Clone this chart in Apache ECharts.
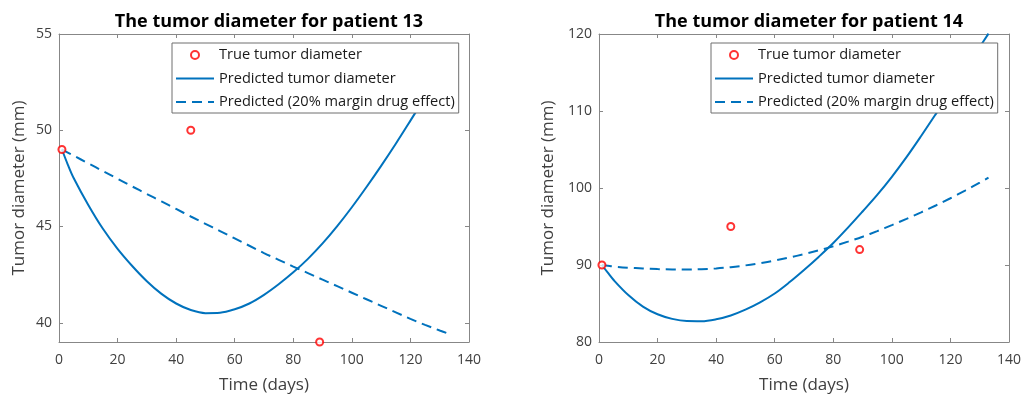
<!DOCTYPE html>
<html>
<head>
<meta charset="utf-8">
<script src="https://cdn.jsdelivr.net/npm/echarts@6/dist/echarts.min.js"></script>
<style>
  html, body { margin: 0; padding: 0; background: #fff; }
  #chart { width: 1025px; height: 403px; }
</style>
</head>
<body>
<div id="chart"></div>
<script>
// x positions (days) shared by the predicted curves
const days = [1, 3, 5, 10, 15, 20, 25, 30, 35, 40, 45, 50, 55, 60, 65, 70, 75, 80, 85, 90, 95, 100, 105, 110, 115, 120, 125, 130, 133];

// patient 13
const trueDays13 = [1, 45, 89];
const trueVals13 = [49, 50, 39];
const predicted13 = [49.0, 48.22, 47.52, 46.12, 44.88, 43.84, 42.95, 42.16, 41.5, 41.0, 40.66, 40.5, 40.52, 40.7, 41.0, 41.45, 42.0, 42.62, 43.32, 44.12, 45.02, 46.0, 47.05, 48.15, 49.3, 50.5, 51.72, 52.97, 53.75];
const margin13 = [49.0, 48.84, 48.68, 48.28, 47.88, 47.48, 47.08, 46.69, 46.3, 45.91, 45.52, 45.14, 44.76, 44.38, 44.0, 43.62, 43.27, 42.92, 42.58, 42.24, 41.9, 41.56, 41.22, 40.88, 40.54, 40.2, 39.89, 39.6, 39.43];

// patient 14
const trueDays14 = [1, 45, 89];
const trueVals14 = [90, 95, 92];
const predicted14 = [90.0, 89.0, 88.05, 86.1, 84.6, 83.6, 83.0, 82.72, 82.7, 82.95, 83.45, 84.2, 85.15, 86.3, 87.75, 89.35, 91.05, 92.85, 94.85, 96.95, 99.1, 101.45, 104.0, 106.75, 109.6, 112.5, 115.4, 118.3, 120.05];
const margin14 = [90.0, 89.9, 89.8, 89.65, 89.55, 89.47, 89.43, 89.42, 89.46, 89.55, 89.72, 89.95, 90.24, 90.58, 90.97, 91.41, 91.9, 92.44, 93.03, 93.67, 94.4, 95.18, 95.99, 96.84, 97.73, 98.67, 99.66, 100.7, 101.35];

const yTicks13 = [40, 45, 50, 55];
const titles = ['The tumor diameter for patient 13', 'The tumor diameter for patient 14'];
const names = ['True tumor diameter', 'Predicted tumor diameter', 'Predicted (20% margin drug effect)'];

const FONT = 'Open Sans';
const AXIS_COLOR = '#878787';
const LABEL_COLOR = '#404040';
const BLUE = '#0072BD';
const RED = '#ff0000';

const zip = (xs, ys) => xs.map((x, i) => [x, ys[i]]);

const xAxisFor = (grid, top) => ({
  type: 'value',
  gridIndex: grid,
  position: top ? 'top' : 'bottom',
  min: 0,
  max: 140,
  interval: 20,
  name: top ? '' : 'Time (days)',
  nameLocation: 'middle',
  nameGap: 35,
  nameTextStyle: { fontFamily: FONT, fontSize: 17, color: LABEL_COLOR },
  axisLine: { show: true, onZero: false, lineStyle: { color: AXIS_COLOR, width: 1 } },
  axisTick: { show: true, inside: true, length: 4, lineStyle: { color: AXIS_COLOR } },
  axisLabel: { show: !top, margin: 11, fontFamily: FONT, fontSize: 14, color: LABEL_COLOR },
  splitLine: { show: false },
});

const yAxisFor = (grid, right, range) => {
  const ax = {
    type: 'value',
    gridIndex: grid,
    position: right ? 'right' : 'left',
    min: range.min,
    max: range.max,
    name: right ? '' : 'Tumor diameter (mm)',
    nameLocation: 'middle',
    nameGap: range.nameGap,
    nameTextStyle: { fontFamily: FONT, fontSize: 17, color: LABEL_COLOR },
    axisLine: { show: true, onZero: false, lineStyle: { color: AXIS_COLOR, width: 1 } },
    axisTick: { show: true, inside: true, length: 4, lineStyle: { color: AXIS_COLOR } },
    axisLabel: { show: !right, margin: 7, fontFamily: FONT, fontSize: 14, color: LABEL_COLOR },
    splitLine: { show: false },
  };
  if (range.ticks) {
    ax.axisTick.customValues = range.ticks;
    ax.axisLabel.customValues = range.ticks;
  } else {
    ax.interval = range.interval;
  }
  return ax;
};

const range13 = { min: 39, max: 55, ticks: yTicks13, nameGap: 31 };
const range14 = { min: 80, max: 120, interval: 10, nameGap: 42 };

const seriesFor = (idx, tDays, tVals, pred, marg) => [
  {
    name: names[1],
    type: 'line',
    xAxisIndex: idx * 2,
    yAxisIndex: idx * 2,
    data: zip(days, pred),
    smooth: 0.35,
    symbol: 'none',
    lineStyle: { color: BLUE, width: 2 },
    itemStyle: { color: BLUE },
  },
  {
    name: names[2],
    type: 'line',
    xAxisIndex: idx * 2,
    yAxisIndex: idx * 2,
    data: zip(days, marg),
    smooth: 0.35,
    symbol: 'none',
    lineStyle: { color: BLUE, width: 2, type: [10, 6] },
    itemStyle: { color: BLUE },
  },
  {
    name: names[0],
    type: 'scatter',
    xAxisIndex: idx * 2,
    yAxisIndex: idx * 2,
    data: zip(tDays, tVals),
    symbol: 'emptyCircle',
    symbolSize: 7,
    itemStyle: { color: RED, borderColor: RED, borderWidth: 2 },
    z: 3,
  },
];

const legendFor = (left) => ({
  orient: 'vertical',
  left: left,
  top: 43,
  data: [
    { name: names[0] },
    { name: names[1], itemStyle: { opacity: 0 } },
    { name: names[2], itemStyle: { opacity: 0 } },
  ],
  backgroundColor: '#fff',
  borderColor: '#6e6e6e',
  borderWidth: 1,
  padding: [4, 4, 3, 3],
  itemWidth: 38,
  itemHeight: 8,
  itemGap: 7.5,
  selectedMode: false,
  textStyle: { fontFamily: FONT, fontSize: 14.6, lineHeight: 16, color: '#1a1a1a' },
});

const chart = echarts.init(document.getElementById('chart'));
chart.setOption({
  animation: false,
  backgroundColor: '#fff',
  title: [
    { text: titles[0], left: 264, top: 8, textAlign: 'center', textStyle: { fontFamily: FONT, fontSize: 18, fontWeight: 'bold', color: '#000' } },
    { text: titles[1], left: 804, top: 8, textAlign: 'center', textStyle: { fontFamily: FONT, fontSize: 18, fontWeight: 'bold', color: '#000' } },
  ],
  grid: [
    { left: 59, top: 34, width: 410, height: 308 },
    { left: 599, top: 34, width: 410, height: 308 },
  ],
  xAxis: [xAxisFor(0, false), xAxisFor(0, true), xAxisFor(1, false), xAxisFor(1, true)],
  yAxis: [yAxisFor(0, false, range13), yAxisFor(0, true, range13), yAxisFor(1, false, range14), yAxisFor(1, true, range14)],
  legend: [legendFor(172), legendFor(711)],
  series: [
    ...seriesFor(0, trueDays13, trueVals13, predicted13, margin13),
    ...seriesFor(1, trueDays14, trueVals14, predicted14, margin14),
  ],
});
</script>
</body>
</html>
